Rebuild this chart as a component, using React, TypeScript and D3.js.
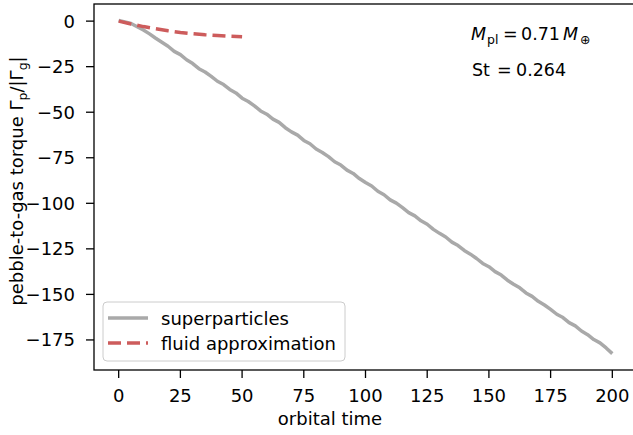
import React from "react";
import * as d3 from "d3";

const superT: number[] = d3.range(0, 200.01, 2.5);
const superVals: number[] = [
  0.3, -0.4, -1.3, -3.1, -4.9, -7.0, -9.4, -11.6, -13.8, -16.6,
  -18.4, -21.2, -23.3, -26.1, -27.9, -30.3, -33.0, -34.8, -37.5, -39.4,
  -42.3, -44.1, -46.5, -49.3, -51.1, -53.8, -55.6, -58.5, -60.8, -62.6,
  -65.5, -67.3, -70.2, -72.1, -74.4, -77.2, -79.0, -81.8, -83.6, -86.4,
  -88.6, -90.5, -93.4, -95.3, -98.1, -99.9, -102.4, -105.1, -106.9, -109.6,
  -111.5, -114.3, -116.5, -118.5, -121.3, -123.2, -125.9, -127.9, -130.3, -133.0,
  -134.8, -137.5, -139.4, -142.2, -144.4, -146.4, -149.2, -151.1, -153.8, -155.8,
  -158.2, -160.9, -162.7, -165.5, -167.3, -170.1, -172.1, -174.8, -176.6, -179.4,
  -182.5,
];
const fluidT: number[] = [0, 5, 10, 15, 20, 25, 30, 35, 40, 45, 50];
const fluidVals: number[] = [0, -1.6, -3.0, -4.2, -5.3, -6.2, -6.9, -7.5, -7.9, -8.3, -8.6];
const xTicks: number[] = [0, 25, 50, 75, 100, 125, 150, 175, 200];
const yTicks: number[] = [0, -25, -50, -75, -100, -125, -150, -175];
const seriesNames: string[] = ["superparticles", "fluid approximation"];

const W = 633;
const H = 435;
const L = 94, R = 637, T = 4, B = 370;
const FONT = "DejaVu Sans, sans-serif";
const GRAY = "#a9a9a9";
const RED = "#cd5c5c";

export default function App() {
  const x = d3.scaleLinear().domain([-10, 210]).range([L, R]);
  const y = d3.scaleLinear().domain([-191.5, 9.4]).range([B, T]);
  const line = d3.line<[number, number]>().x((d) => x(d[0])).y((d) => y(d[1]));
  const superPath = line(superT.map((t, i) => [t, superVals[i]] as [number, number])) || "";
  const fluidPath = line(fluidT.map((t, i) => [t, fluidVals[i]] as [number, number])) || "";
  const fmt = (v: number) => (v < 0 ? "\u2212" + Math.abs(v) : String(v));
  const fs = 18;
  const fl = 18;
  const fa = 17.5;
  const sub = 12.5;

  return (
    <svg width={W} height={H} style={{ position: "absolute", left: 0, top: 0, background: "#fff" }} fontFamily={FONT}>
      <rect x={0} y={0} width={W} height={H} fill="#fff" />
      <defs>
        <clipPath id="ax">
          <rect x={L} y={T} width={R - L} height={B - T} />
        </clipPath>
      </defs>
      <g clipPath="url(#ax)">
        <path d={superPath} fill="none" stroke={GRAY} strokeWidth={3.5} strokeLinejoin="round" />
        <path d={fluidPath} fill="none" stroke={RED} strokeWidth={3.5} strokeDasharray="13,6" />
      </g>
      <rect x={L} y={T} width={R - L} height={B - T} fill="none" stroke="#000" strokeWidth={1.3} />
      {xTicks.map((t) => (
        <g key={"x" + t}>
          <line x1={x(t)} x2={x(t)} y1={B} y2={B + 8} stroke="#000" strokeWidth={1.3} />
          <text x={x(t)} y={402} fontSize={fs} textAnchor="middle" fill="#000">{fmt(t)}</text>
        </g>
      ))}
      {yTicks.map((t) => (
        <g key={"y" + t}>
          <line x1={L - 8} x2={L} y1={y(t)} y2={y(t)} stroke="#000" strokeWidth={1.3} />
          <text x={L - 19} y={y(t) + 6.5} fontSize={fs} textAnchor="end" fill="#000">{fmt(t)}</text>
        </g>
      ))}
      <text x={330} y={425} fontSize={fl} textAnchor="middle" fill="#000">orbital time</text>
      <text transform={`translate(23,181) rotate(-90)`} fontSize={fl} textAnchor="middle" fill="#000">
        pebble-to-gas torque Γ<tspan fontSize={sub} dy={4}>p</tspan><tspan dy={-4}>/|Γ</tspan><tspan fontSize={sub} dy={4}>g</tspan><tspan dy={-4}>|</tspan>
      </text>
      <g fontSize={fa} fill="#000">
        <text x={471} y={40} fontStyle="italic">M</text>
        <text x={487} y={44} fontSize={sub}>pl</text>
        <text x={503} y={40}>=</text>
        <text x={521} y={40}>0.71</text>
        <text x={563} y={40} fontStyle="italic">M</text>
        <text x={580} y={44} fontSize={sub}>⊕</text>
        <text x={472} y={76}>St</text>
        <text x={497} y={76}>=</text>
        <text x={516} y={76}>0.264</text>
      </g>
      <rect x={103} y={302} width={242} height={59} rx={4} fill="#fff" fillOpacity={0.8} stroke="#cccccc" strokeWidth={1} />
      <line x1={108} x2={148} y1={318} y2={318} stroke={GRAY} strokeWidth={3.5} />
      <line x1={108} x2={148} y1={343} y2={343} stroke={RED} strokeWidth={3.5} strokeDasharray="13,6" />
      <text x={161} y={324.5} fontSize={fl} fill="#000">{seriesNames[0]}</text>
      <text x={161} y={349.5} fontSize={fl} fill="#000">{seriesNames[1]}</text>
    </svg>
  );
}
